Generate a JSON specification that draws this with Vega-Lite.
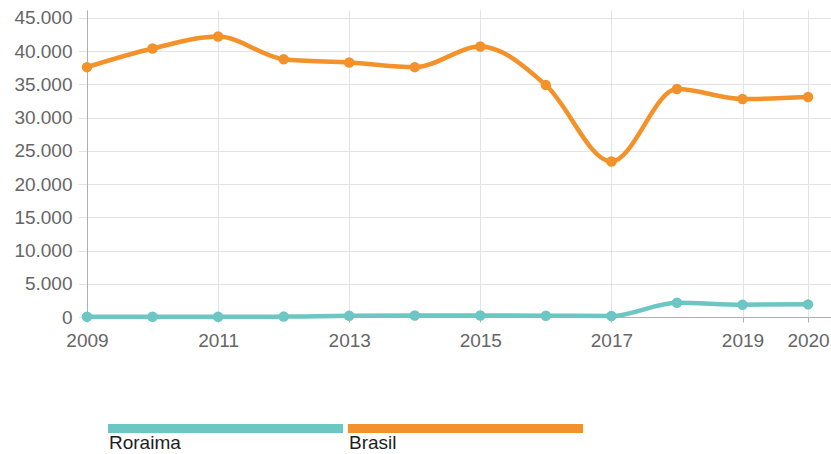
{
  "$schema": "https://vega.github.io/schema/vega-lite/v6.json",
  "padding": {"left": 13, "top": 8, "right": 0, "bottom": 0},
  "background": "white",
  "config": {"view": {"stroke": null}, "font": "Liberation Sans"},
  "spacing": 74,
  "datasets": {
    "series": [
      {"year": 2009, "series": "Brasil", "value": 37600},
      {"year": 2010, "series": "Brasil", "value": 40400},
      {"year": 2011, "series": "Brasil", "value": 42200},
      {"year": 2012, "series": "Brasil", "value": 38800},
      {"year": 2013, "series": "Brasil", "value": 38300},
      {"year": 2014, "series": "Brasil", "value": 37600},
      {"year": 2015, "series": "Brasil", "value": 40700},
      {"year": 2016, "series": "Brasil", "value": 34900},
      {"year": 2017, "series": "Brasil", "value": 23400},
      {"year": 2018, "series": "Brasil", "value": 34300},
      {"year": 2019, "series": "Brasil", "value": 32800},
      {"year": 2020, "series": "Brasil", "value": 33100},
      {"year": 2009, "series": "Roraima", "value": 30},
      {"year": 2010, "series": "Roraima", "value": 40},
      {"year": 2011, "series": "Roraima", "value": 40},
      {"year": 2012, "series": "Roraima", "value": 60},
      {"year": 2013, "series": "Roraima", "value": 200},
      {"year": 2014, "series": "Roraima", "value": 220},
      {"year": 2015, "series": "Roraima", "value": 220},
      {"year": 2016, "series": "Roraima", "value": 200},
      {"year": 2017, "series": "Roraima", "value": 150},
      {"year": 2018, "series": "Roraima", "value": 2150},
      {"year": 2019, "series": "Roraima", "value": 1850},
      {"year": 2020, "series": "Roraima", "value": 1900}
    ],
    "legend": [
      {"series": "Roraima"},
      {"series": "Brasil"}
    ]
  },
  "vconcat": [
    {
      "width": 744,
      "height": 307,
      "data": {"name": "series"},
      "encoding": {
        "x": {
          "field": "year", "type": "quantitative",
          "scale": {"domain": [2009, 2020.35], "nice": false, "zero": false},
          "axis": {
            "title": null, "values": [2009, 2011, 2013, 2015, 2017, 2019, 2020],
            "format": "d", "labelFontSize": 19, "labelColor": "#666666",
            "labelFont": "Liberation Sans",
            "gridColor": "#e3e3e3", "domainColor": "#b0b0b0", "tickColor": "#b0b0b0",
            "tickSize": 5, "labelPadding": 9, "labelFlush": false
          }
        },
        "y": {
          "field": "value", "type": "quantitative",
          "scale": {"domain": [0, 46200], "nice": false},
          "axis": {
            "title": null,
            "values": [0, 5000, 10000, 15000, 20000, 25000, 30000, 35000, 40000, 45000],
            "labelExpr": "replace(format(datum.value, ','), ',', '.')",
            "labelFontSize": 19, "labelColor": "#666666", "labelFont": "Liberation Sans",
            "gridColor": "#e3e3e3", "domainColor": "#b0b0b0", "tickColor": "#e3e3e3",
            "tickSize": 9, "labelPadding": 6
          }
        },
        "color": {
          "field": "series", "type": "nominal",
          "scale": {"domain": ["Roraima", "Brasil"], "range": ["#6cc6c3", "#f3922a"]},
          "legend": null
        }
      },
      "layer": [
        {"mark": {"type": "line", "interpolate": "monotone", "strokeWidth": 4.5}},
        {"mark": {"type": "point", "filled": true, "opacity": 1, "size": 110}}
      ]
    },
    {
      "width": 517,
      "height": 9,
      "data": {"name": "legend"},
      "encoding": {
        "x": {
          "field": "series", "type": "nominal",
          "scale": {"domain": ["Roraima", "Brasil"], "paddingInner": 0.0208, "paddingOuter": 0.0875},
          "axis": null
        }
      },
      "layer": [
        {
          "mark": {"type": "bar"},
          "encoding": {
            "color": {
              "field": "series", "type": "nominal",
              "scale": {"domain": ["Roraima", "Brasil"], "range": ["#6cc6c3", "#f3922a"]},
              "legend": null
            }
          }
        },
        {
          "mark": {"type": "text", "align": "left", "baseline": "alphabetic", "dy": 20, "dx": 1, "fontSize": 19, "color": "#1e1e1e", "font": "Liberation Sans"},
          "encoding": {
            "x": {"field": "series", "type": "nominal", "bandPosition": 0},
            "text": {"field": "series"}
          }
        }
      ]
    }
  ]
}
